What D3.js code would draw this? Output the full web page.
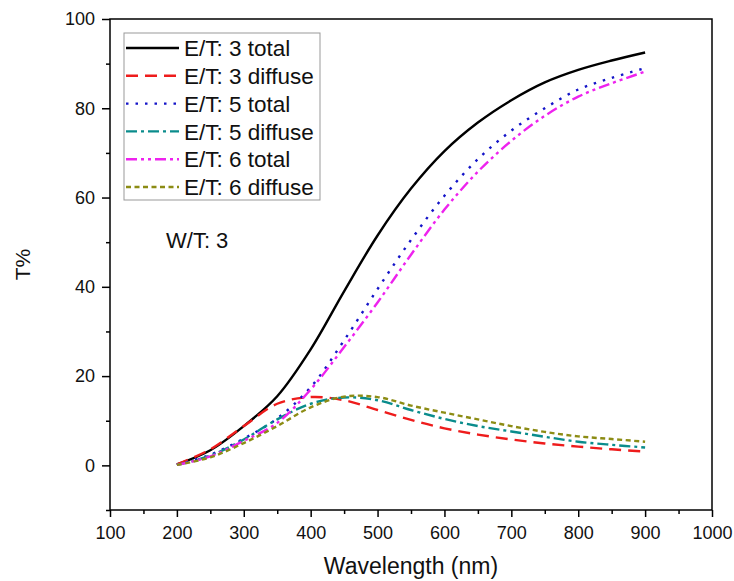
<!DOCTYPE html>
<html>
<head>
<meta charset="utf-8">
<script src="https://cdn.jsdelivr.net/npm/d3@7"></script>
<style>
  body { margin: 0; background: #fff; }
  text { font-family: "Liberation Sans", Arial, sans-serif; fill: #111; }
</style>
</head>
<body>
<div id="chart"></div>
<script>
/* Transmittance vs wavelength, W/T: 3 */

const wavelength = [200, 250, 300, 350, 400, 450, 500, 550, 600, 650, 700, 750, 800, 850, 900];

const et3Total   = [0.2, 3.4, 8.8, 15.5, 26.0, 39.0, 51.5, 62.0, 70.4, 76.8, 81.8, 85.8, 88.6, 90.7, 92.5];
const et3Diffuse = [0.2, 3.6, 8.8, 13.8, 15.3, 14.6, 12.4, 10.2, 8.3, 6.9, 5.8, 4.9, 4.2, 3.6, 3.1];
const et5Total   = [0.1, 2.4, 6.0, 10.5, 17.5, 28.0, 39.5, 50.5, 60.4, 68.6, 75.0, 80.0, 84.2, 86.8, 89.0];
const et5Diffuse = [0.1, 2.2, 5.8, 10.3, 13.8, 15.2, 14.6, 12.4, 10.4, 8.8, 7.6, 6.4, 5.3, 4.6, 4.0];
const et6Total   = [0.1, 2.0, 5.5, 9.5, 17.0, 26.5, 36.5, 47.2, 57.3, 65.8, 72.7, 78.3, 82.6, 85.6, 88.2];
const et6Diffuse = [0.1, 1.8, 5.0, 8.8, 13.0, 15.4, 15.3, 13.4, 11.8, 10.3, 8.8, 7.5, 6.5, 5.9, 5.3];

const seriesNames = ["E/T: 3 total", "E/T: 3 diffuse", "E/T: 5 total", "E/T: 5 diffuse", "E/T: 6 total", "E/T: 6 diffuse"];
const seriesValues = [et3Total, et3Diffuse, et5Total, et5Diffuse, et6Total, et6Diffuse];

const xTicks = [100, 200, 300, 400, 500, 600, 700, 800, 900, 1000];
const xMinor = [150, 250, 350, 450, 550, 650, 750, 850, 950];
const yTicks = [0, 20, 40, 60, 80, 100];
const yMinor = [-10, 10, 30, 50, 70, 90];

const colors = ["#000000", "#ee1c1c", "#1414c8", "#0a8c8c", "#ee22ee", "#8c8c14"];
const dashes = ["none", "12,7", "2.5,7", "11,4,3,4", "11,4,3,4,3,4", "5,3.5"];

const width = 734,
      height = 581,
      margin = ({top: 19, right: 22, bottom: 71, left: 110});

let svg = d3.select("#chart")
            .append("svg")
            .attr("width", width)
            .attr("height", height)
            .attr("viewBox", [0, 0, width, height]);

const x = d3.scaleLinear()
            .domain([100, 1000])
            .range([margin.left, width - margin.right]);

const y = d3.scaleLinear()
            .domain([-10, 100])
            .range([height - margin.bottom, margin.top]);

// minor ticks first, then major ticks with labels
svg.append("g")
    .attr("transform", `translate(0,${height - margin.bottom})`)
    .call(d3.axisBottom(x).tickValues(xMinor).tickSize(4).tickSizeOuter(0).tickFormat(""))
    .call(g => g.select(".domain").remove());

svg.append("g")
    .attr("transform", `translate(0,${height - margin.bottom})`)
    .call(d3.axisBottom(x).tickValues(xTicks).tickSize(7).tickPadding(9).tickSizeOuter(0).tickFormat(d3.format("d")))
    .call(g => g.select(".domain").remove())
    .call(g => g.selectAll("text").style("font-size", "18px").style("fill", "#111"));

svg.append("g")
    .attr("transform", `translate(${margin.left},0)`)
    .call(d3.axisLeft(y).tickValues(yMinor).tickSize(4).tickSizeOuter(0).tickFormat(""))
    .call(g => g.select(".domain").remove());

svg.append("g")
    .attr("transform", `translate(${margin.left},0)`)
    .call(d3.axisLeft(y).tickValues(yTicks).tickSize(8).tickPadding(7).tickSizeOuter(0).tickFormat(d3.format("d")))
    .call(g => g.select(".domain").remove())
    .call(g => g.selectAll("text").style("font-size", "18px").style("fill", "#111"));

svg.selectAll(".tick line").attr("stroke", "#000").attr("stroke-width", 1.5);

// frame
svg.append("rect")
    .attr("x", margin.left)
    .attr("y", margin.top)
    .attr("width", width - margin.left - margin.right)
    .attr("height", height - margin.top - margin.bottom)
    .attr("fill", "none")
    .attr("stroke", "#000")
    .attr("stroke-width", 1.5);

const line = d3.line()
    .x(d => x(d[0]))
    .y(d => y(d[1]))
    .curve(d3.curveCatmullRom.alpha(0.5));

svg.append("g")
    .selectAll("path")
    .data(seriesValues)
    .join("path")
    .attr("fill", "none")
    .attr("stroke", (d, i) => colors[i])
    .attr("stroke-width", 2.4)
    .attr("stroke-dasharray", (d, i) => dashes[i])
    .attr("d", d => line(wavelength.map((w, j) => [w, d[j]])));

// legend
const lg = svg.append("g");
lg.append("rect")
    .attr("x", 124).attr("y", 33)
    .attr("width", 196).attr("height", 167)
    .attr("fill", "#fff")
    .attr("stroke", "#999")
    .attr("stroke-width", 1);

let item = lg.selectAll(".item")
    .data(seriesNames)
    .join("g")
    .attr("class", "item")
    .attr("transform", (d, i) => `translate(0,${48 + i * 27.8})`);

item.append("line")
    .attr("x1", 126).attr("x2", 179)
    .attr("stroke", (d, i) => colors[i])
    .attr("stroke-width", 2.4)
    .attr("stroke-dasharray", (d, i) => dashes[i]);

item.append("text")
    .attr("x", 184)
    .attr("dy", "0.36em")
    .style("font-size", "22.5px")
    .text(d => d);

svg.append("text")
    .attr("x", 166)
    .attr("y", 248)
    .style("font-size", "22px")
    .text("W/T: 3");

svg.append("text")
    .attr("x", (margin.left + width - margin.right) / 2)
    .attr("y", 574)
    .attr("text-anchor", "middle")
    .style("font-size", "23px")
    .text("Wavelength (nm)");

svg.append("text")
    .attr("transform", `translate(30,${(margin.top + height - margin.bottom) / 2}) rotate(-90)`)
    .attr("text-anchor", "middle")
    .style("font-size", "21px")
    .text("T%");
</script>
</body>
</html>
